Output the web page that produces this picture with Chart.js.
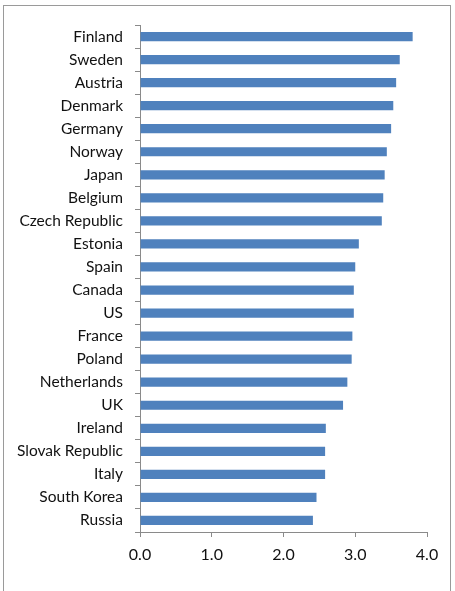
<!DOCTYPE html>
<html>
<head>
<meta charset="utf-8">
<script src="https://cdn.jsdelivr.net/npm/chart.js@4"></script>
<style>
  html, body { margin: 0; padding: 0; background: #fff; }
  #wrap { width: 455px; height: 591px; position: relative; }
</style>
</head>
<body>
<div id="wrap"><canvas id="chart" width="455" height="591"></canvas></div>
<script>
const countries = ['Finland', 'Sweden', 'Austria', 'Denmark', 'Germany', 'Norway', 'Japan', 'Belgium',
  'Czech Republic', 'Estonia', 'Spain', 'Canada', 'US', 'France', 'Poland', 'Netherlands', 'UK',
  'Ireland', 'Slovak Republic', 'Italy', 'South Korea', 'Russia'];
const scores = [3.80, 3.62, 3.57, 3.53, 3.50, 3.44, 3.41, 3.39,
  3.37, 3.05, 3.00, 2.98, 2.98, 2.96, 2.95, 2.89, 2.83,
  2.59, 2.58, 2.58, 2.46, 2.41];
const xTicks = [0, 1, 2, 3, 4];

const axisGray = '#8a8a8a';

// outer frame like the spreadsheet chart border
const frame = {
  id: 'frame',
  beforeDraw(chart) {
    const ctx = chart.ctx;
    ctx.save();
    ctx.strokeStyle = '#9a9a9a';
    ctx.lineWidth = 1;
    ctx.strokeRect(3.5, 5.5, 447, 600);
    ctx.restore();
  }
};

const ctx = document.querySelector('#chart').getContext('2d');
const chart = new Chart(ctx, {
  type: 'bar',
  data: {
    labels: countries,
    datasets: [{
      data: scores,
      backgroundColor: '#4f81bd',
      borderWidth: 0,
      barPercentage: 0.4,
      categoryPercentage: 1
    }]
  },
  plugins: [frame],
  options: {
    indexAxis: 'y',
    responsive: false,
    animation: false,
    layout: { padding: { top: 25, right: 28, left: 0, bottom: 0 } },
    plugins: { legend: { display: false }, tooltip: { enabled: false } },
    scales: {
      x: {
        type: 'linear',
        min: 0,
        max: 4,
        afterBuildTicks: (scale) => { scale.ticks = xTicks.map(v => ({ value: v })); },
        afterFit: (scale) => { scale.height = 59; },
        border: { color: axisGray },
        grid: { drawOnChartArea: false, color: axisGray, tickLength: 5 },
        ticks: {
          padding: 8,
          color: '#111',
          font: { family: 'Lato', size: 16 },
          callback: (v) => Number(v).toFixed(1)
        }
      },
      y: {
        afterFit: (scale) => { scale.width = 140; },
        border: { color: axisGray },
        grid: { drawOnChartArea: false, color: axisGray, tickLength: 5, offset: true },
        ticks: {
          padding: 12,
          color: '#111',
          autoSkip: false,
          font: { family: 'Lato', size: 15.5 }
        }
      }
    }
  }
});
</script>
</body>
</html>
